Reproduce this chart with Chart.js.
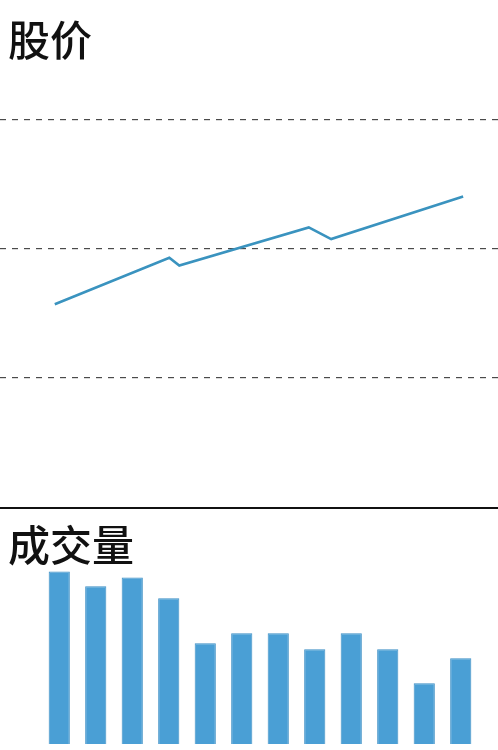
<!DOCTYPE html>
<html>
<head>
<meta charset="utf-8">
<script src="https://cdn.jsdelivr.net/npm/chart.js"></script>
<style>
  html, body { margin: 0; padding: 0; background: #ffffff; }
  body { width: 498px; height: 750px; overflow: hidden; }
  #price-box { position: relative; width: 498px; height: 507px; }
  #divider { width: 498px; height: 2px; background: #111111; }
  #volume-box { position: relative; width: 498px; height: 241px; }
</style>
</head>
<body>
  <div id="price-box"><canvas id="price-chart"></canvas></div>
  <div id="divider"></div>
  <div id="volume-box"><canvas id="volume-chart"></canvas></div>

  <script>
    // Данные
    const priceTitle = '股价';
    const volumeTitle = '成交量';
    // цена: день торгов -> значение
    const priceDays = [11, 34, 36, 62, 66.5, 93];
    const priceValues = [15.7, 19.3, 18.7, 21.65, 20.75, 24.05];
    const priceGridTicks = [10, 20, 30];
    // объём по дням
    const volumeLabels = ['1', '2', '3', '4', '5', '6', '7', '8', '9', '10', '11', '12'];
    const volumeValues = [173, 158, 167, 146, 101, 111, 111, 95, 111, 95, 61, 86];

    const titleFont = {
      family: '"Noto Sans CJK SC", "Noto Sans", sans-serif',
      size: 42,
      weight: 500,
      lineHeight: 1.2
    };

    // заголовок слева с отступом 8px, независимо от области графика
    const titleShift = {
      id: 'titleShift',
      afterLayout: (chart) => {
        if (chart.titleBlock) {
          chart.titleBlock.left = 8;
        }
      }
    };

    Chart.defaults.animation = false;

    // График цены
    new Chart(document.getElementById('price-chart'), {
      type: 'line',
      data: {
        datasets: [{
          data: priceDays.map((d, i) => ({ x: d, y: priceValues[i] })),
          borderColor: '#3a93bf',
          borderWidth: 2.6,
          pointRadius: 0,
          tension: 0,
          fill: false
        }]
      },
      options: {
        responsive: true,
        maintainAspectRatio: false,
        layout: { padding: 0 },
        plugins: {
          legend: { display: false },
          tooltip: { enabled: false },
          title: {
            display: true,
            text: priceTitle,
            align: 'start',
            color: '#111111',
            font: titleFont,
            padding: { top: 15, bottom: 9 }
          }
        },
        scales: {
          x: {
            type: 'linear',
            min: 0,
            max: 100,
            display: false
          },
          y: {
            min: 0,
            max: 33.5,
            afterBuildTicks: (scale) => {
              scale.ticks = priceGridTicks.map(v => ({ value: v }));
            },
            afterFit: (scale) => { scale.width = 0; },
            ticks: { display: false },
            border: { display: false, dash: [6, 6] },
            grid: {
              color: '#4a4a4a',
              lineWidth: 1.2,
              drawTicks: false
            }
          }
        }
      },
      plugins: [titleShift]
    });

    // График объёма
    new Chart(document.getElementById('volume-chart'), {
      type: 'bar',
      data: {
        labels: volumeLabels,
        datasets: [{
          data: volumeValues,
          backgroundColor: '#4a9fd5',
          borderColor: '#3c8ec4',
          borderWidth: 1,
          barPercentage: 0.58,
          categoryPercentage: 1
        }]
      },
      options: {
        responsive: true,
        maintainAspectRatio: false,
        layout: { padding: { left: 41, right: 19, bottom: 6, top: 0 } },
        plugins: {
          legend: { display: false },
          tooltip: { enabled: false },
          title: {
            display: true,
            text: volumeTitle,
            align: 'start',
            color: '#111111',
            font: titleFont,
            padding: { top: 11, bottom: 0 }
          }
        },
        scales: {
          x: { display: false },
          y: {
            min: 0,
            max: 174,
            display: false
          }
        }
      },
      plugins: [titleShift]
    });
  </script>
</body>
</html>
